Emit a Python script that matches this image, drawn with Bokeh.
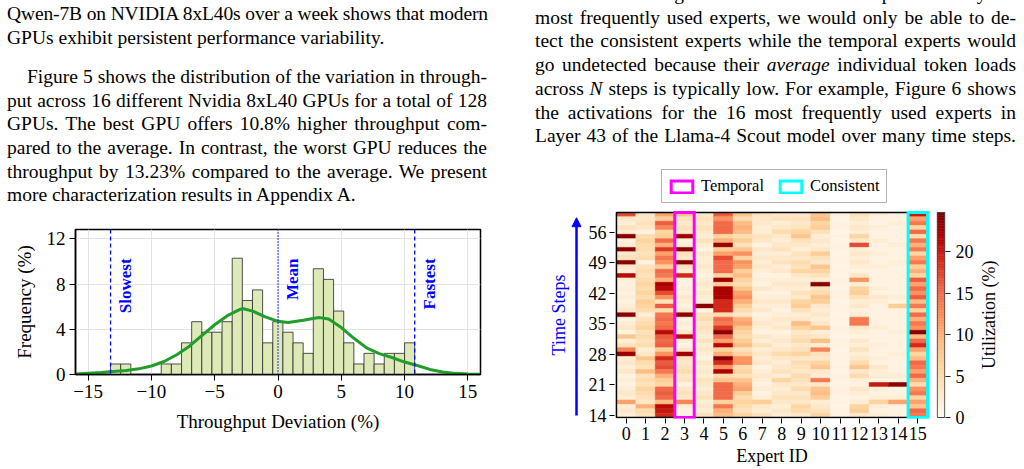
import numpy as np
from math import pi
from bokeh.plotting import figure
from bokeh.layouts import row, column
from bokeh.models import (Div, Span, Label, Arrow, NormalHead, FixedTicker,
                          Legend, LegendItem, CustomJSTickFormatter, ColumnDataSource)
from bokeh.transform import linear_cmap
from bokeh.embed import file_html
from bokeh.resources import INLINE

FONT = "Liberation Serif"

# ---------------- data: Figure 5 (throughput deviation histogram) ----------------
slowest_dev = -13.23
fastest_dev = 10.8
mean_dev = 0.0
n_bins = 30
hist_freq = [0.93, 0.93, 0, 0, 0, 0.93, 0.93, 2.80, 4.67, 3.74,
             3.74, 4.67, 10.28, 6.54, 7.48, 2.80, 4.67, 3.74, 2.80, 1.87,
             9.35, 8.41, 5.61, 2.80, 0.93, 1.87, 0.93, 1.87, 1.87, 2.80]
kde_x = [-16, -15, -14, -13, -12, -11, -10, -9, -8, -7, -6, -5, -4, -3, -2.8, -2, -1,
         0, 0.8, 2, 3, 3.3, 4, 5, 6, 7, 8, 9, 10, 11, 12, 13, 14, 15, 16]
kde_y = [0.05, 0.12, 0.18, 0.27, 0.35, 0.5, 0.75, 1.15, 1.75, 2.5, 3.45, 4.4, 5.2, 5.75, 5.83, 5.6, 5.1,
         4.7, 4.59, 4.8, 5.0, 5.03, 4.9, 4.15, 3.2, 2.35, 1.85, 1.5, 1.1, 0.8, 0.45, 0.22, 0.1, 0.05, 0.02]
hist_xticks = [-15, -10, -5, 0, 5, 10, 15]
hist_yticks = [0, 4, 8, 12]

# ---------------- data: Figure 6 (expert utilization heatmap) ----------------
expert_ids = list(range(16))
time_steps = list(range(14, 61))
# each list: utilization (%) from time step 60 (top) down to 14 (bottom)
u00 = [17, 3, 2, 4, 2, 24, 1, 2, 24, 3, 4, 24, 3, 2, 21, 2, 1, 2, 1, 2, 1, 2, 3, 24, 1, 2, 3, 1, 8, 2,
       4, 13, 23, 2, 3, 2, 3, 1, 2, 1, 2, 3, 2, 11, 2, 3, 2]
u01 = [3, 3, 4, 3, 1, 5, 6, 5, 5, 4, 5, 1, 4, 5, 4, 5, 6, 5, 6, 5, 7, 6, 5, 2, 4, 5, 6, 4, 5, 4,
       5, 2, 3, 8, 5, 4, 9, 4, 5, 4, 6, 5, 4, 3, 10, 5, 4]
u02 = [11, 7, 16, 13, 6, 7, 15, 10, 18, 11, 14, 12, 7, 15, 14, 10, 22, 21, 17, 12, 4, 16, 5, 14, 15, 14, 15, 21, 16, 15,
       16, 7, 12, 19, 16, 17, 14, 10, 7, 6, 15, 16, 15, 9, 21, 20, 19]
u03 = [8, 4, 3, 4, 3, 23, 1, 2, 24, 4, 3, 24, 4, 2, 19, 1, 1, 2, 1, 3, 2, 1, 3, 24, 1, 2, 1, 3, 21, 2,
       1, 3, 23, 4, 3, 4, 5, 3, 4, 1, 3, 4, 3, 13, 2, 1, 1]
u04 = [3, 4, 3, 4, 3, 2, 4, 2, 1, 3, 2, 2, 3, 2, 1, 2, 3, 2, 3, 2, 2, 24, 1, 4, 5, 3, 4, 3, 2, 4,
       2, 3, 2, 1, 3, 2, 3, 2, 4, 3, 2, 3, 4, 2, 3, 2, 4]
u05 = [16, 12, 15, 15, 15, 6, 10, 23, 7, 11, 17, 15, 15, 15, 6, 23, 7, 22, 22, 22, 19, 19, 19, 5, 15, 14, 18, 24, 15, 11,
       21, 6, 10, 24, 19, 12, 22, 5, 8, 15, 15, 15, 15, 6, 14, 10, 9]
u06 = [8, 5, 9, 10, 9, 5, 7, 4, 8, 12, 6, 12, 11, 7, 9, 6, 5, 8, 11, 12, 10, 7, 5, 3, 10, 11, 8, 6, 5, 7,
       9, 4, 6, 12, 12, 5, 6, 4, 8, 10, 11, 7, 5, 6, 5, 4, 6]
u07 = [4, 3, 3, 2, 2, 4, 3, 1, 3, 2, 3, 2, 3, 2, 1, 2, 1, 3, 1, 2, 3, 2, 3, 1, 2, 3, 2, 1, 3, 2,
       4, 2, 3, 2, 3, 1, 2, 3, 2, 1, 2, 1, 2, 7, 3, 2, 4]
u08 = [3, 4, 2, 3, 5, 3, 2, 3, 4, 2, 3, 4, 2, 3, 1, 2, 3, 2, 1, 2, 3, 2, 1, 2, 3, 2, 3, 1, 2, 3,
       2, 3, 5, 3, 2, 3, 4, 2, 6, 3, 2, 3, 4, 3, 2, 3, 2]
u09 = [3, 4, 3, 4, 6, 8, 4, 3, 2, 4, 3, 5, 4, 6, 3, 2, 3, 2, 4, 3, 6, 7, 4, 2, 3, 9, 6, 3, 4, 5,
       3, 4, 6, 3, 5, 4, 3, 5, 4, 3, 5, 3, 4, 3, 6, 5, 3]
u10 = [8, 9, 6, 7, 4, 2, 3, 2, 3, 7, 4, 3, 8, 6, 4, 2, 24, 4, 5, 8, 7, 3, 2, 3, 2, 3, 8, 2, 3, 9,
       2, 13, 4, 3, 6, 8, 3, 2, 14, 3, 8, 9, 7, 2, 3, 4, 6]
u11 = [1, 0.5, 1, 1, 0.5, 1, 0.5, 1, 1, 0.5, 1, 1, 0.5, 1, 0.5, 1, 1, 0.5, 1, 1, 0.5, 1, 1, 0.5, 1, 0.5, 1, 1, 0.5, 1,
       1, 0.5, 1, 1, 0.5, 1, 0.5, 1, 1, 0.5, 1, 1, 0.5, 1, 0.5, 1, 1]
u12 = [4, 3, 2, 3, 2, 6, 3, 17, 2, 3, 2, 3, 2, 1, 3, 12, 2, 6, 7, 4, 2, 3, 1, 2, 14, 14, 3, 2, 1, 3,
       2, 4, 2, 3, 5, 8, 3, 5, 2, 1, 3, 2, 1, 2, 6, 7, 3]
u13 = [2, 1, 1, 2, 1, 1, 2, 1, 1, 2, 1, 1, 2, 1, 1, 1, 1, 2, 1, 3, 2, 1, 1, 1, 1, 1, 2, 1, 1, 1,
       2, 1, 1, 2, 1, 3, 2, 2, 1, 20, 2, 1, 2, 6, 2, 1, 2]
u14 = [1, 1, 2, 1, 1, 1, 1, 2, 1, 1, 1, 2, 1, 1, 1, 1, 1, 1, 1, 2, 1, 7, 1, 1, 1, 1, 1, 2, 1, 1,
       1, 1, 2, 1, 1, 1, 1, 2, 1, 24, 1, 1, 2, 11, 1, 1, 1]
u15 = [20, 11, 14, 6, 15, 5, 14, 10, 14, 6, 11, 14, 7, 10, 6, 16, 11, 15, 12, 16, 9, 14, 6, 15, 10, 14, 12, 24, 9, 15,
       19, 11, 6, 9, 15, 14, 11, 15, 10, 5, 12, 14, 6, 11, 8, 15, 14]
heat_yticks = [14, 21, 28, 35, 42, 49, 56]
cbar_ticks = [0, 5, 10, 15, 20]
temporal_expert = 3
consistent_expert = 15
util_max = 24.75

# ---------------- text ----------------
left_lines = [
    ("jt", "Qwen-7B on NVIDIA 8xL40s over a week shows that modern"),
    ("l", "GPUs exhibit persistent performance variability."),
    ("jp", "Figure 5 shows the distribution of the variation in through-"),
    ("j", "put across 16 different Nvidia 8xL40 GPUs for a total of 128"),
    ("j", "GPUs. The best GPU offers 10.8% higher throughput com-"),
    ("j", "pared to the average. In contrast, the worst GPU reduces the"),
    ("j", "throughput by 13.23% compared to the average. We present"),
    ("l", "more characterization results in Appendix A."),
]
right_lines = [
    ("j", "monitor the average token load across <i>N</i> steps to identify the"),
    ("j", "most frequently used experts, we would only be able to de-"),
    ("j", "tect the consistent experts while the temporal experts would"),
    ("j", "go undetected because their <i>average</i> individual token loads"),
    ("j", "across <i>N</i> steps is typically low. For example, Figure 6 shows"),
    ("j", "the activations for the 16 most frequently used experts in"),
    ("j", "Layer 43 of the Llama-4 Scout model over many time steps."),
]


def text_block(lines, margin, width):
    out = []
    for kind, txt in lines:
        st = "white-space:nowrap;"
        if kind.startswith("j"):
            st += "text-align:justify;text-align-last:justify;"
        if kind == "jp":
            st += "text-indent:20px;margin-top:15.5px;"
        if kind == "jt":
            st += "letter-spacing:-0.13px;"
        out.append(f'<div style="{st}">{txt}</div>')
    return (f'<div style="font-family:\'{FONT}\';font-size:19.5px;line-height:23.7px;color:#000;'
            f'margin:{margin};width:{width}px;">' + "".join(out) + "</div>")


div_l = Div(text=text_block(left_lines, "2px 0 0 7px", 480), width=500, height=215,
            styles={"overflow": "hidden"}, margin=(0, 0, 0, 0))
div_r = Div(text=text_block(right_lines, "-18px 0 0 35px", 481), width=524, height=150,
            styles={"overflow": "hidden"}, margin=(0, 0, 0, 0))

# ---------------- left chart ----------------
pl = figure(width=500, height=254, x_range=(-16, 16), y_range=(0, 12.82),
            min_border_left=75, min_border_right=20, min_border_top=14, min_border_bottom=95,
            output_backend="svg", toolbar_location=None)
edges = np.linspace(slowest_dev, fastest_dev, n_bins + 1)
freq = np.array(hist_freq, dtype=float)
mask = freq > 0
pl.quad(left=edges[:-1][mask], right=edges[1:][mask], bottom=0, top=freq[mask],
        fill_color="#dde9b6", line_color="#333333", line_alpha=0.85, line_width=1)
pl.line(kde_x, kde_y, line_color="#1f9e2a", line_width=3)
pl.add_layout(Span(location=slowest_dev, dimension="height", line_color="#0000ff", line_dash="4 3", line_width=1.3))
pl.add_layout(Span(location=fastest_dev, dimension="height", line_color="#0000ff", line_dash="4 3", line_width=1.3))
pl.add_layout(Span(location=mean_dev, dimension="height", line_color="#0000ff", line_dash="1 2", line_width=1.6))
for xv, name in [(slowest_dev, "Slowest"), (mean_dev, "Mean"), (fastest_dev, "Fastest")]:
    pl.add_layout(Label(x=xv, y=10.26, x_offset=5, text=name, angle=pi / 2, text_align="right",
                        text_baseline="top", text_color="#0000ff", text_font=FONT,
                        text_font_style="bold", text_font_size="17px"))
pl.xaxis.ticker = FixedTicker(ticks=hist_xticks)
pl.yaxis.ticker = FixedTicker(ticks=hist_yticks)
pl.xaxis.formatter = CustomJSTickFormatter(code="return (tick < 0 ? '\\u2212' : '') + Math.abs(tick);")
pl.xaxis.axis_label = "Throughput Deviation (%)"
pl.yaxis.axis_label = "Frequency (%)"
for ax in (pl.xaxis[0], pl.yaxis[0]):
    ax.major_label_text_font = FONT
    ax.major_label_text_font_size = "19px"
    ax.major_label_text_color = "#000"
    ax.axis_label_text_font = FONT
    ax.axis_label_text_font_size = "19px"
    ax.axis_label_text_font_style = "normal"
    ax.axis_label_text_color = "#000"
    ax.major_tick_out = 6
    ax.major_tick_in = 0
    ax.minor_tick_line_color = None
    ax.axis_line_width = 1.5
    ax.axis_line_color = "#000"
    ax.major_tick_line_color = "#000"
    ax.major_label_standoff = 4
pl.xaxis.axis_label_standoff = 10
pl.yaxis.axis_label_standoff = 9
pl.xgrid.ticker = FixedTicker(ticks=hist_xticks)
pl.ygrid.ticker = FixedTicker(ticks=hist_yticks)
pl.grid.grid_line_color = "#e3e3e3"
pl.grid.grid_line_width = 1
pl.outline_line_color = "#000"
pl.outline_line_width = 1.5
pl.outline_line_alpha = 1

# ---------------- right chart (heatmap) ----------------
anchors = ["#fff7ec", "#fee8c8", "#fdd49e", "#fdbb84", "#fc8d59", "#ef6548", "#d7301f", "#b30000", "#7f0000"]
A = np.array([[int(h[i:i + 2], 16) for i in (1, 3, 5)] for h in anchors], dtype=float)
apos = np.linspace(0, 1, len(anchors))
pal = ["#%02x%02x%02x" % tuple(int(round(np.interp(t, apos, A[:, k]))) for k in range(3))
       for t in np.linspace(0, 1, 256)]

cols = [u00, u01, u02, u03, u04, u05, u06, u07, u08, u09, u10, u11, u12, u13, u14, u15]
xs, ys, vs = [], [], []
for e, col in zip(expert_ids, cols):
    for i, v in enumerate(col):
        xs.append(e)
        ys.append(time_steps[len(time_steps) - 1 - i])
        vs.append(v)
src = ColumnDataSource(dict(x=xs, y=ys, v=vs))

# shared vertical geometry: the frames reach up to hold the legend above the heatmap
FIG_H = 319
TOP_B = 15
BOT_B = 51
PX_PER_STEP = 205 / 47.0
y_lo = time_steps[0] - 0.5 - 1.0 / PX_PER_STEP
y_hi = y_lo + (FIG_H - TOP_B - BOT_B) / PX_PER_STEP
heat_x0 = expert_ids[0] - 0.5
heat_x1 = expert_ids[-1] + 0.5
heat_y0 = time_steps[0] - 0.5
heat_y1 = time_steps[-1] + 0.5

# side panel holding the "Time Steps" arrow and label
ps = figure(width=84, height=FIG_H, x_range=(0, 84), y_range=(y_lo, y_hi),
            min_border_left=0, min_border_right=0, min_border_top=TOP_B, min_border_bottom=BOT_B,
            output_backend="svg", toolbar_location=None)
ps.axis.visible = False
ps.grid.visible = False
ps.outline_line_color = None
ps.add_layout(Arrow(end=NormalHead(size=9, fill_color="#0000ff", line_color="#0000ff"),
                    x_start=76, y_start=13.96, x_end=76, y_end=59.3,
                    line_color="#0000ff", line_width=2.5))
ps.add_layout(Label(x=58, y=37.0, text="Time Steps", angle=pi / 2, text_align="center",
                    text_baseline="middle", text_color="#0000ff", text_font=FONT, text_font_size="18px"))

ph = figure(width=348, height=FIG_H, x_range=(-0.6, 15.6), y_range=ps.y_range,
            min_border_left=30, min_border_right=3, min_border_top=TOP_B, min_border_bottom=BOT_B,
            output_backend="svg", toolbar_location=None)
cm = linear_cmap("v", pal, 0, util_max)
ph.rect(x="x", y="y", width=1, height=1, source=src, fill_color=cm, line_color=cm, line_width=0.6)
ph.quad(left=heat_x0, right=heat_x1, bottom=heat_y0, top=heat_y1, fill_color=None,
        line_color="#000", line_width=1.5)
r_t = ph.quad(left=temporal_expert - 0.5, right=temporal_expert + 0.5, bottom=heat_y0, top=heat_y1,
              fill_color=None, line_color="#ff00ff", line_width=3, line_join="miter")
r_c = ph.quad(left=consistent_expert - 0.5, right=consistent_expert + 0.5, bottom=heat_y0, top=heat_y1,
              fill_color=None, line_color="#00ffff", line_width=3, line_join="miter")
leg = Legend(items=[LegendItem(label="Temporal", renderers=[r_t]),
                    LegendItem(label="Consistent", renderers=[r_c])],
             location=(47, 215), orientation="horizontal", glyph_width=27, glyph_height=15,
             label_standoff=6, spacing=13, padding=6, margin=0, label_height=15,
             border_line_color="#666", border_line_width=1, label_text_font=FONT,
             label_text_font_size="16.5px", label_text_color="#000")
ph.add_layout(leg)
ph.xaxis.ticker = FixedTicker(ticks=expert_ids)
ph.yaxis.ticker = FixedTicker(ticks=heat_yticks)
ph.xaxis.axis_label = "Expert ID"
for ax in (ph.xaxis[0], ph.yaxis[0]):
    ax.major_label_text_font = FONT
    ax.major_label_text_font_size = "18px"
    ax.major_label_text_color = "#000"
    ax.axis_label_text_font = FONT
    ax.axis_label_text_font_size = "18px"
    ax.axis_label_text_font_style = "normal"
    ax.axis_label_text_color = "#000"
    ax.major_tick_out = 5
    ax.major_tick_in = 0
    ax.minor_tick_line_color = None
    ax.axis_line_color = None
    ax.major_tick_line_color = "#000"
    ax.major_label_standoff = 3
ph.xaxis.axis_label_standoff = 3
ph.grid.visible = False
ph.outline_line_color = None

# ---------------- colorbar ----------------
UNIT_PER_PX = util_max / 205.0
cb_lo = 0 - 1 * UNIT_PER_PX
cb_hi = cb_lo + (FIG_H - TOP_B - BOT_B) * UNIT_PER_PX
pc = figure(width=44, height=FIG_H, x_range=(-0.1, 1.1), y_range=(cb_lo, cb_hi), y_axis_location="right",
            min_border_left=4, min_border_right=28, min_border_top=TOP_B, min_border_bottom=BOT_B,
            output_backend="svg", toolbar_location=None)
lv = np.linspace(0, util_max, 129)
mid = (lv[:-1] + lv[1:]) / 2
strip_cols = [pal[int(round(m / util_max * 255))] for m in mid]
pc.quad(left=0, right=1, bottom=lv[:-1], top=lv[1:], fill_color=strip_cols, line_color=strip_cols, line_width=0.5)
pc.quad(left=0, right=1, bottom=0, top=util_max, fill_color=None, line_color="#444", line_width=1)
pc.xaxis.visible = False
pc.grid.visible = False
pc.outline_line_color = None
ay = pc.yaxis[0]
ay.ticker = FixedTicker(ticks=cbar_ticks)
ay.major_label_text_font = FONT
ay.major_label_text_font_size = "18px"
ay.major_label_text_color = "#000"
ay.major_tick_out = 5
ay.major_tick_in = 0
ay.minor_tick_line_color = None
ay.axis_line_color = None
ay.major_tick_line_color = "#222"
ay.major_label_standoff = 5

# side panel holding the colorbar title
pt = figure(width=48, height=FIG_H, x_range=(0, 48), y_range=pc.y_range,
            min_border_left=0, min_border_right=0, min_border_top=TOP_B, min_border_bottom=BOT_B,
            output_backend="svg", toolbar_location=None)
pt.axis.visible = False
pt.grid.visible = False
pt.outline_line_color = None
pt.add_layout(Label(x=12, y=12.4, text="Utilization (%)", angle=pi / 2, text_align="center",
                    text_baseline="middle", text_color="#000", text_font=FONT, text_font_size="18px"))

layout = row(column(div_l, pl), column(div_r, row(ps, ph, pc, pt)))
open("out.html", "w").write(file_html(layout, INLINE))
